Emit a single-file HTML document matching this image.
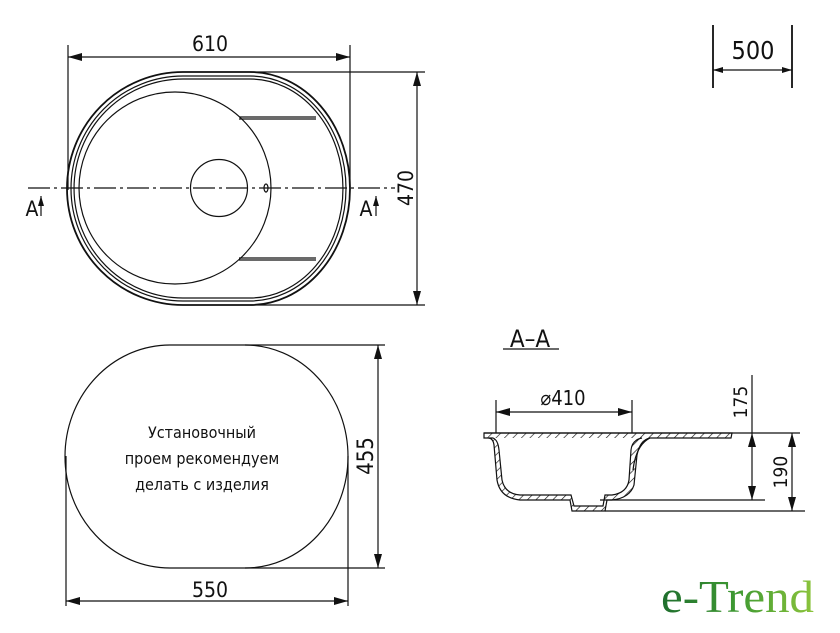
<!DOCTYPE html>
<html><head><meta charset="utf-8"><style>
html,body{margin:0;padding:0;background:#fff;}
svg{display:block;}
text{font-family:"DejaVu Sans Condensed","DejaVu Sans","Liberation Sans",sans-serif;fill:#111;}
</style></head><body>
<svg width="840" height="633" viewBox="0 0 840 633" xmlns="http://www.w3.org/2000/svg">
<defs>
<marker id="ar" viewBox="0 0 14 8" refX="14" refY="4" markerWidth="14" markerHeight="8" orient="auto-start-reverse" markerUnits="userSpaceOnUse"><path d="M0,0 L14,4 L0,8 Z" fill="#111"/></marker>
<marker id="as" viewBox="0 0 10 6" refX="10" refY="3" markerWidth="10" markerHeight="6" orient="auto-start-reverse" markerUnits="userSpaceOnUse"><path d="M0,0 L10,3 L0,6 Z" fill="#111"/></marker>
<pattern id="hat" width="6" height="6" patternUnits="userSpaceOnUse" patternTransform="rotate(45)"><line x1="0" y1="0" x2="0" y2="6" stroke="#111" stroke-width="1.3"/></pattern>
<linearGradient id="lg" x1="0" x2="1"><stop offset="0" stop-color="#1f6e2e"/><stop offset="0.5" stop-color="#3f9a32"/><stop offset="1" stop-color="#8cc43c"/></linearGradient>
</defs>
<g fill="none" stroke="#111" stroke-width="1.2">
<line x1="68" y1="45" x2="68" y2="190"/>
<line x1="350" y1="45" x2="350" y2="190"/>
<line x1="68" y1="57" x2="350" y2="57" marker-start="url(#ar)" marker-end="url(#ar)"/>
<path d="M183,72 L250,72 A100,116.5 0 0 1 250,305 L183,305 A116,116.5 0 0 1 183,72Z" stroke-width="1.8"/>
<path d="M183,76 L250,76 A96,112.5 0 0 1 250,301 L183,301 A112,112.5 0 0 1 183,76Z"/>
<path d="M183,79 L250,79 A93,109.5 0 0 1 250,298 L183,298 A109,109.5 0 0 1 183,79Z"/>
<circle cx="175" cy="188" r="96"/>
<circle cx="219" cy="188" r="28.5"/>
<ellipse cx="266" cy="188" rx="2" ry="4"/>
<line x1="239" y1="117" x2="316" y2="117"/><line x1="239" y1="119" x2="316" y2="119"/>
<line x1="239" y1="258" x2="316" y2="258"/><line x1="239" y1="260" x2="316" y2="260"/>
<line x1="28" y1="188" x2="395" y2="188" stroke-dasharray="22,4,3,4"/>
<line x1="41" y1="216" x2="41" y2="196" marker-end="url(#as)"/>
<line x1="376" y1="216" x2="376" y2="196" marker-end="url(#as)"/>
<line x1="250" y1="72" x2="425" y2="72"/>
<line x1="250" y1="305" x2="425" y2="305"/>
<line x1="417" y1="72" x2="417" y2="305" marker-start="url(#ar)" marker-end="url(#ar)"/>
<line x1="713" y1="25" x2="713" y2="88" stroke-width="1.8"/>
<line x1="792" y1="25" x2="792" y2="88" stroke-width="1.8"/>
<line x1="713" y1="70" x2="792" y2="70" marker-start="url(#as)" marker-end="url(#as)"/>
<path d="M170,345 L245,345 A103,111.5 0 0 1 245,568 L170,568 A105,111.5 0 0 1 170,345Z"/>
<line x1="245" y1="345" x2="385" y2="345"/>
<line x1="245" y1="568" x2="385" y2="568"/>
<line x1="378" y1="345" x2="378" y2="568" marker-start="url(#ar)" marker-end="url(#ar)"/>
<line x1="66" y1="456" x2="66" y2="606"/>
<line x1="348" y1="456" x2="348" y2="606"/>
<line x1="66" y1="601" x2="348" y2="601" marker-start="url(#ar)" marker-end="url(#ar)"/>
<line x1="503" y1="349" x2="559" y2="349"/>
<line x1="496" y1="400" x2="496" y2="433"/>
<line x1="632" y1="400" x2="632" y2="433"/>
<line x1="496" y1="412" x2="632" y2="412" marker-start="url(#ar)" marker-end="url(#ar)"/>
<path d="M484,433 L732,433 L731,438 L650,438 Q640,440 637,455 L634,485 Q630,498 612,500 L607,500 L605,511 L572,511 L570,500 L520,500 Q500,498 497,480 L494,445 Q493,438 488,438 L484,438Z" fill="url(#hat)"/>
<path d="M489,438 L493,438 Q498,440 499,450 L502,480 Q505,494 520,495 L571,495 L574,506 L603,506 L605,495 L612,495 Q627,493 629,480 L631,450 Q632,440 642,438" fill="#fff"/>
<path d="M650,438 Q636,445 633,470" />
<line x1="484" y1="433" x2="800" y2="433"/>
<line x1="600" y1="500" x2="765" y2="500"/>
<line x1="605" y1="511" x2="805" y2="511"/>
<line x1="752" y1="375" x2="752" y2="433"/>
<line x1="752" y1="433" x2="752" y2="500" marker-start="url(#ar)" marker-end="url(#ar)"/>
<line x1="792" y1="433" x2="792" y2="511" marker-start="url(#ar)" marker-end="url(#ar)"/>
</g>
<text x="210" y="51" font-size="21" text-anchor="middle">610</text>
<text x="32" y="216" font-size="21" text-anchor="middle">A</text>
<text x="366" y="216" font-size="21" text-anchor="middle">A</text>
<text transform="translate(413,188) rotate(-90)" font-size="21" text-anchor="middle">470</text>
<text x="753" y="59" font-size="25" text-anchor="middle">500</text>
<text x="202" y="438" font-size="16" text-anchor="middle">Установочный</text>
<text x="202" y="464" font-size="16" text-anchor="middle">проем рекомендуем</text>
<text x="202" y="490" font-size="16" text-anchor="middle">делать с изделия</text>
<text transform="translate(373,456) rotate(-90)" font-size="22" text-anchor="middle">455</text>
<text x="210" y="597" font-size="21" text-anchor="middle">550</text>
<text x="530" y="347" font-size="24" text-anchor="middle">A–A</text>
<text x="563" y="405" font-size="20" text-anchor="middle">⌀410</text>
<text transform="translate(747,402) rotate(-90)" font-size="19" text-anchor="middle">175</text>
<text transform="translate(787,472) rotate(-90)" font-size="19" text-anchor="middle">190</text>
<text x="661" y="612" font-size="46" style="fill:url(#lg);font-family:'Liberation Serif',serif" textLength="153" lengthAdjust="spacingAndGlyphs">e-Trend</text>
</svg>
</body></html>
